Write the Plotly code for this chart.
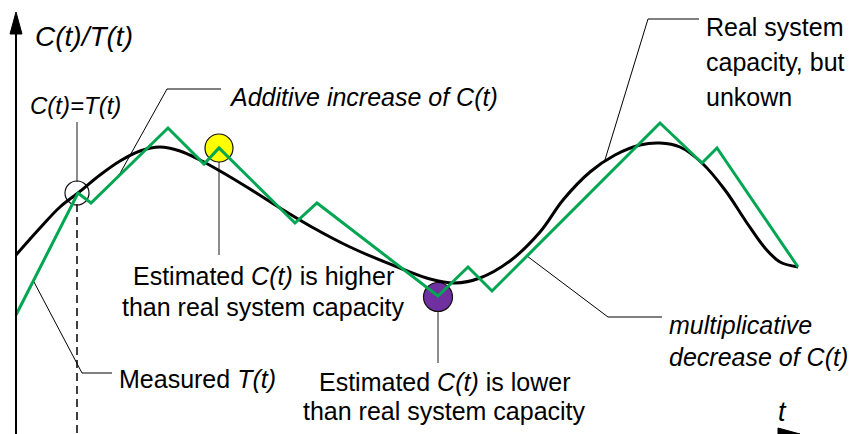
import plotly.graph_objects as go

# Plot units: horizontal t runs 0..854, vertical value runs 434 (bottom) .. 0 (top)
W, H = 854, 434

# Estimated capacity C(t): additive increase / multiplicative decrease saw-tooth
t_est = [16, 78, 91, 168, 204, 219, 295, 317, 438, 468, 492, 660, 702, 717, 798]
c_est = [315, 193, 203, 128, 164, 148, 223, 203, 296, 267, 291, 123, 163, 148, 267]

# Real (unknown) system capacity
t_real = [16, 40, 60, 78, 100, 120, 140, 160, 180, 200, 220, 250, 280, 310, 350, 400,
          430, 455, 480, 510, 540, 563, 590, 615, 640, 660, 680, 702, 725, 747, 765, 780, 798]
c_real = [255, 228, 207, 193, 175, 161, 151, 147, 151, 160, 171, 189, 208, 226, 247, 268,
          279, 283, 278, 261, 232, 200, 172, 155, 145, 143, 147, 163, 190, 223, 248, 262, 267]

# Highlighted points: C(t)=T(t), estimate above capacity, estimate below capacity
mark_t = [77, 219, 438]
mark_c = [193, 148, 297]
mark_size = [24, 28, 29]
mark_fill = ["rgba(255,255,255,0)", "#ffff00", "#7030a0"]

GREEN = "#00a651"
FONT = "Arial, Liberation Sans, sans-serif"
FS = 25

fig = go.Figure()

# highlight circles (under the curves)
for t, c, s, f in zip(mark_t, mark_c, mark_size, mark_fill):
    fig.add_trace(go.Scatter(
        x=[t], y=[c], mode="markers", opacity=1,
        marker=dict(size=s, color=f, opacity=1, line=dict(color="#111", width=1.2)),
        hoverinfo="skip", showlegend=False))

fig.add_trace(go.Scatter(
    x=t_real, y=c_real, mode="lines",
    line=dict(color="black", width=3, shape="spline", smoothing=1.0),
    hoverinfo="skip", showlegend=False))

fig.add_trace(go.Scatter(
    x=t_est, y=c_est, mode="lines",
    line=dict(color=GREEN, width=3),
    hoverinfo="skip", showlegend=False))

shapes = []

def seg(x0, y0, x1, y1, color="black", width=1, dash=None, layer="below"):
    line = dict(color=color, width=width)
    if dash:
        line["dash"] = dash
    shapes.append(dict(type="line", xref="x", yref="y", x0=x0, y0=y0, x1=x1, y1=y1,
                       line=line, layer=layer))

# axes
seg(16, 434, 16, 30, width=2, layer="above")
shapes.append(dict(type="path", xref="x", yref="y", path="M 10 34 L 16 12 L 22 34 Z",
                   fillcolor="black", line=dict(color="black", width=1)))
shapes.append(dict(type="path", xref="x", yref="y", path="M 778 428 L 800 434 L 778 434 Z",
                   fillcolor="black", line=dict(color="black", width=1)))

# dashed line at the point where C(t)=T(t)
seg(77, 204, 77, 434, width=1.5, dash="8px,5px")

# grey stems from the labels to the circles
seg(77, 122, 77, 182, color="#666", width=1.5)
seg(219, 162, 219, 255, color="#666", width=1.5)
seg(438, 311, 438, 363, color="#666", width=1.5)

# leader lines
seg(118, 177, 167, 89); seg(167, 89, 221, 89)
seg(604, 163, 648, 19); seg(648, 19, 699, 19)
seg(527, 256, 608, 317); seg(608, 317, 662, 317)
seg(34, 282, 82, 373); seg(82, 373, 112, 373)

annotations = []

def label(text, x, y, xanchor="left", size=FS):
    annotations.append(dict(text=text, x=x, y=y, xref="x", yref="y", xanchor=xanchor,
                            yanchor="middle", showarrow=False,
                            font=dict(family=FONT, size=size, color="black")))

label("<i>C(t)/T(t)</i>", 33, 36, size=28)
label("<i>C(t)=T(t)</i>", 28, 105, size=24)
label("<i>Additive increase of C(t)</i>", 227, 97)
label("Real system", 704, 27)
label("capacity, but", 704, 62)
label("unkown", 704, 97)
label("Estimated <i>C(t)</i> is higher", 263, 276, xanchor="center")
label("than real system capacity", 263, 307, xanchor="center")
label("Estimated <i>C(t)</i> is lower", 444, 382, xanchor="center")
label("than real system capacity", 444, 411, xanchor="center")
label("Measured <i>T(t)</i>", 117, 379)
label("<i>multiplicative</i>", 667, 325)
label("<i>decrease of C(t)</i>", 667, 357)
label("<i>t</i>", 782, 412, xanchor="center", size=27)

fig.update_layout(
    width=W, height=H, margin=dict(l=0, r=0, t=0, b=0),
    paper_bgcolor="white", plot_bgcolor="white",
    xaxis=dict(range=[0, W], visible=False, fixedrange=True),
    yaxis=dict(range=[H, 0], visible=False, fixedrange=True),
    shapes=shapes, annotations=annotations, showlegend=False,
)

fig.write_html("out.html", config={"displayModeBar": False})
